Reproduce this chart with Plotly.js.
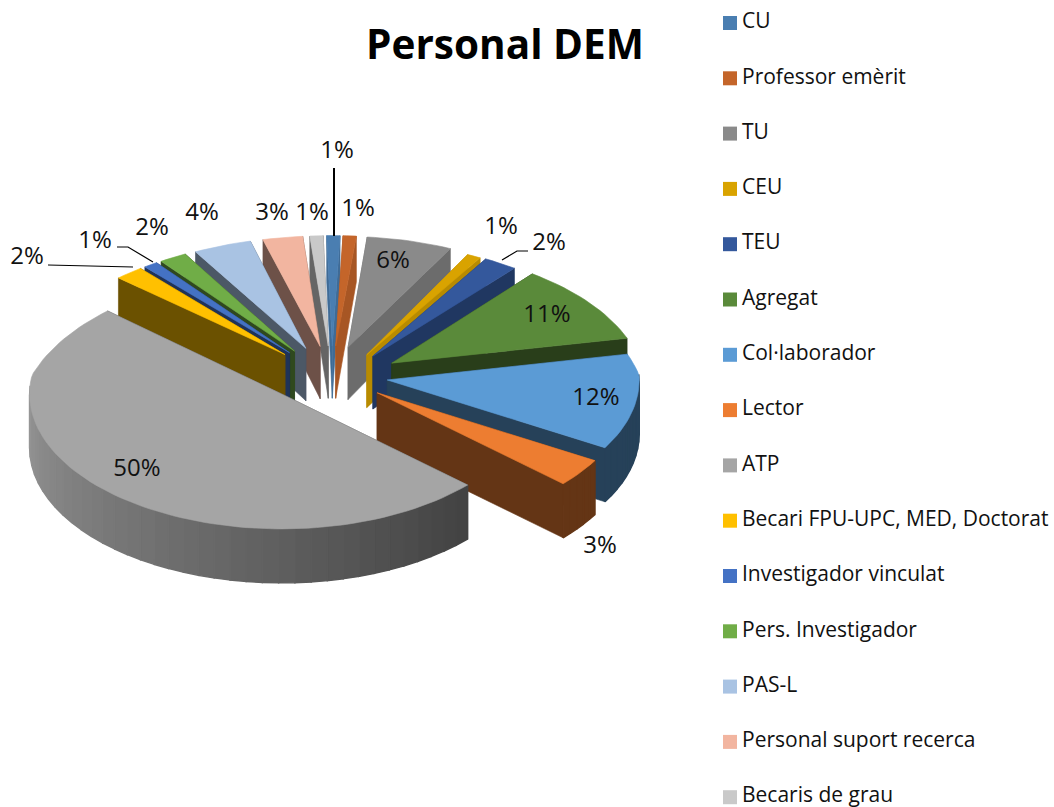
<!DOCTYPE html>
<html><head><meta charset="utf-8">
<script src="https://cdn.plot.ly/plotly-3.0.1.min.js"></script>
<style>html,body{margin:0;padding:0;background:#fff}#c{width:1054px;height:807px}</style>
</head><body><div id="c"></div>
<script>
const categories=["CU","Professor emèrit","TU","CEU","TEU","Agregat","Col·laborador","Lector","ATP","Becari FPU-UPC, MED, Doctorat","Investigador vinculat","Pers. Investigador","PAS-L","Personal suport recerca","Becaris de grau"];
const values=[1,1,6.4,1,2.4,10.5,11.5,3.4,49.5,2,1,2,4.3,3,1];
const colors=["#4a7eb1","#c4652a","#8a8a8a","#d9a300","#34589c","#5a8a3a","#5b9bd5","#ed7d31","#a5a5a5","#ffc000","#4472c4","#70ad47","#a9c3e3","#f2b5a0","#c9c9c9"];
const wallShade=[0.85,0.85,0.78,0.85,0.62,0.45,0.42,0.42,0.42,0.42,0.45,0.42,0.45,0.45,0.5];
const font="'Open Sans', sans-serif";
// view model of the tilted pie
const cx=332,cy=375,A=252,B=135,D=54,P=0.15,E=0.222,LEFT=1.2,RIGHT=1.25,ROT=-1.5;
const labelX=[337,358,393,501,549,547,596,600,137,27,95,152,202,272,312];
const labelY=[152,210,262,228,244,316,399,547,470,258,242,229,214,214,214];
const leaders=[[[334,334],[168,236],2],[[48,133],[265,267],1.2],[[117,128,153],[247,247,262],1.2],[[502,517,528],[260,251,251],1.2]];
const legendX=730,legendTextX=742,legendY0=23,legendStep=55.3;

function proj(u,v,z){const d=1+P*Math.max(v,0);return [cx+A*u/d,cy-B*v/d+z*D/d];}
function rgb(h){return [1,3,5].map(i=>parseInt(h.substr(i,2),16));}
function shade(h,f){return "rgb("+rgb(h).map(c=>Math.round(c*f)).join(",")+")";}
function poly(pts,col,w){return {type:"scatter",mode:"lines",x:pts.map(p=>p[0]),y:pts.map(p=>p[1]),fill:"toself",fillcolor:col,line:{color:col,width:w===undefined?0.6:w},hoverinfo:"skip",showlegend:false};}

const total=values.reduce((a,b)=>a+b,0);
let cum=0;
const slices=values.map((val,i)=>{
  const t1=cum/total*360+ROT;cum+=val;const t2=cum/total*360+ROT;const m=(t1+t2)/2*Math.PI/180;
  let du=E*Math.sin(m),dv=E*Math.cos(m);
  if(du<0)du*=LEFT;
  if(Math.sin(m)>0.3&&dv>0){du*=RIGHT;dv*=0.8;}
  if(val===Math.max(...values)){du=-0.2;dv=-0.14;}
  return {i,t1,t2,du,dv,depth:Math.cos(m)};
}).sort((a,b)=>b.depth-a.depth);

const traces=[];
const arc=(s,t,z)=>{const r=t*Math.PI/180;return proj(Math.sin(r)+s.du,Math.cos(r)+s.dv,z);};
slices.forEach(s=>{
  const c=colors[s.i];
  const isBig=values[s.i]===Math.max(...values);
  const ap0=proj(s.du,s.dv,0),ap1=proj(s.du,s.dv,1);
  const cuts=[s.t1,s.t2].map(t=>({t,d:Math.cos(t*Math.PI/180)})).sort((a,b)=>b.d-a.d);
  cuts.forEach(k=>traces.push(poly([ap0,arc(s,k.t,0),arc(s,k.t,1),ap1,ap0],shade(c,wallShade[s.i]))));
  const n=isBig?48:Math.max(3,Math.ceil((s.t2-s.t1)/3));
  for(let j=0;j<n;j++){
    const a=s.t1+(s.t2-s.t1)*j/n,b=s.t1+(s.t2-s.t1)*(j+1)/n;
    const mid=(a+b)/2;
    if(Math.cos(mid*Math.PI/180)>0.05)continue;
    const f=isBig?Math.min(0.9,0.4+Math.max(0,mid-133)/137*0.5):0.42;
    traces.push(poly([arc(s,a,0),arc(s,b,0),arc(s,b,1),arc(s,a,1),arc(s,a,0)],shade(c,f),1.4));
  }
  const top=[ap0];
  const m=Math.max(4,Math.ceil((s.t2-s.t1)/2));
  for(let j=0;j<=m;j++)top.push(arc(s,s.t1+(s.t2-s.t1)*j/m,0));
  top.push(ap0);
  traces.push(poly(top,c));
});
leaders.forEach(l=>traces.push({type:"scatter",mode:"lines",x:l[0],y:l[1],line:{color:"#000",width:l[2]},hoverinfo:"skip",showlegend:false}));
traces.push({type:"scatter",mode:"text",x:labelX,y:labelY,text:values.map(v=>Math.round(v)+"%"),textposition:"middle center",textfont:{family:font,size:24,color:"#111"},hoverinfo:"skip",showlegend:false});
const ly=categories.map((_,i)=>legendY0+i*legendStep);
traces.push({type:"scatter",mode:"markers",x:categories.map(()=>legendX),y:ly,marker:{symbol:"square",size:14,color:colors},hoverinfo:"skip",showlegend:false});
traces.push({type:"scatter",mode:"text",x:categories.map(()=>legendTextX),y:ly,text:categories,textposition:"middle right",textfont:{family:font,size:21,color:"#111"},hoverinfo:"skip",showlegend:false});

Plotly.newPlot("c",traces,{
  width:1054,height:807,margin:{l:0,r:0,t:0,b:0},paper_bgcolor:"#fff",plot_bgcolor:"#fff",showlegend:false,
  title:{text:"<b>Personal DEM</b>",x:505/1054,xanchor:"center",y:1-45/807,yanchor:"middle",font:{family:font,size:40.5,color:"#000"}},
  xaxis:{range:[0,1054],visible:false,fixedrange:true},
  yaxis:{range:[807,0],visible:false,fixedrange:true}
},{staticPlot:true,displayModeBar:false});
</script></body></html>
